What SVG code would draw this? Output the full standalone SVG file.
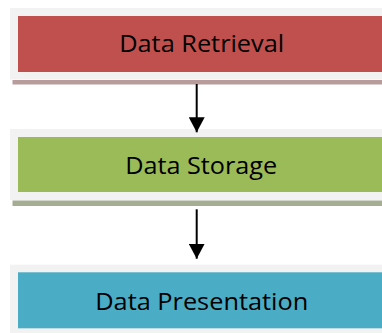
<svg xmlns="http://www.w3.org/2000/svg" width="382" height="333" viewBox="0 0 382 333">
<defs>
<style>
.frame{fill:#f2f2f2}
.lbl{font-family:"Open Sans","Noto Sans",sans-serif;font-size:24px;fill:#000;text-anchor:middle}
.conn{stroke:#000;stroke-width:2;fill:none}
</style>
<marker id="ah" viewBox="0 0 15 16" refX="15" refY="8" markerWidth="15" markerHeight="16" markerUnits="userSpaceOnUse" orient="auto">
<path d="M0,0 L15,8 L0,16 Z" fill="#000"/>
</marker>
</defs>
<rect width="382" height="333" fill="#fff"/>
<g id="node-retrieval">
<rect x="12.5" y="80" width="370" height="4.5" fill="#b89c9c"/>
<rect class="frame" x="10" y="8" width="372" height="71.5"/>
<rect x="18" y="16" width="364" height="56" fill="#c0504d"/>
<text class="lbl" x="201.7" y="52.3" textLength="165" lengthAdjust="spacingAndGlyphs">Data Retrieval</text>
</g>
<g id="node-storage">
<rect x="12.5" y="200.5" width="370" height="5.5" fill="#a5ae92"/>
<rect class="frame" x="10" y="129" width="372" height="71"/>
<rect x="18" y="137" width="364" height="55" fill="#9bbb59"/>
<text class="lbl" x="201.2" y="174" textLength="152" lengthAdjust="spacingAndGlyphs">Data Storage</text>
</g>
<g id="node-presentation">
<rect class="frame" x="10" y="264.7" width="372" height="68.3"/>
<rect x="18" y="272.3" width="364" height="56" fill="#4bacc6"/>
<text class="lbl" x="201.7" y="310" textLength="213" lengthAdjust="spacingAndGlyphs">Data Presentation</text>
</g>
<g id="connectors">
<line class="conn" x1="196.7" y1="84" x2="196.7" y2="132.3" marker-end="url(#ah)"/>
<line class="conn" x1="196.7" y1="209.3" x2="196.7" y2="258.7" marker-end="url(#ah)"/>
</g>
</svg>
